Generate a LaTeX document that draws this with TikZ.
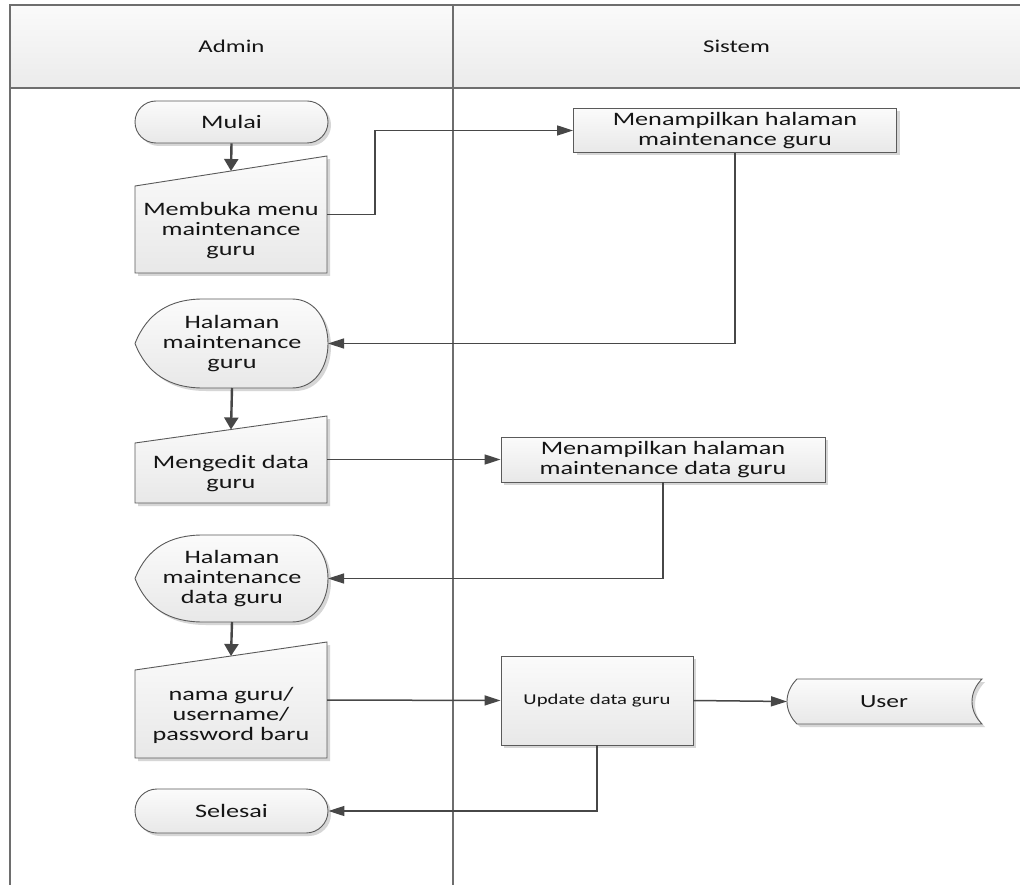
\documentclass[tikz,border=0pt]{standalone}
\usepackage{fontspec}
\newfontfamily\boxfont[FakeStretch=1.38]{Carlito}
\usetikzlibrary{arrows.meta,shadows,calc}
\definecolor{edgec}{HTML}{5A5A5A}
\definecolor{wirec}{HTML}{474747}
\definecolor{lanec}{HTML}{6E6E6E}
\definecolor{filltop}{HTML}{FBFBFB}
\definecolor{fillbot}{HTML}{E8E8E8}
\definecolor{hdrtop}{HTML}{FAFAFA}
\definecolor{hdrbot}{HTML}{EBEBEB}
\definecolor{shadowc}{HTML}{D6D6D6}
\definecolor{ink}{HTML}{151515}
\begin{document}
\begin{tikzpicture}[x=1pt,y=-1pt,
  shp/.style={draw=edgec, line width=0.9pt, top color=filltop, bottom color=fillbot,
    drop shadow={shadow xshift=3pt, shadow yshift=-3pt, fill=shadowc, opacity=1}},
  txt/.style={align=center, text=ink, inner sep=0pt,
    font=\boxfont\fontsize{19}{20}\selectfont},
  boxtxt/.style={shp, txt, rectangle},
  hdr/.style={text=ink, inner sep=0pt, font=\boxfont\fontsize{18}{20}\selectfont},
  lane/.style={draw=lanec, line width=1.2pt},
  wire/.style={draw=wirec, line width=1.5pt, -{Triangle[length=16pt,width=10pt]}},
  down/.style={draw=wirec, line width=2.4pt, -{Triangle[length=12pt,width=14pt]}}
]
\useasboundingbox (0,0) rectangle (1020,885);
\fill[white] (0,0) rectangle (1020,885);

% swimlane frame with header row
\fill[top color=hdrtop, bottom color=hdrbot] (10,5) rectangle (1020,88);
\draw[lane] (1020,5) -- (10,5) -- (10,885);
\draw[lane] (10,88) -- (1020,88);
\draw[lane] (453,5) -- (453,885);
\node[hdr] (admin) at (231.5,46) {Admin};
\node[hdr] (sistem) at (736.5,46) {Sistem};

% start terminator
\node[boxtxt, rounded corners=21pt, minimum width=193pt, minimum height=42pt] (mulai) at (231.5,122) {Mulai};

% manual input: open the menu
\path[shp] (135,186) -- (327,156) -- (327,273) -- (135,273) -- cycle;
\node[txt] (membuka) at (231,231) {Membuka menu\\maintenance\\guru};
\coordinate (membuka-in) at (231,171);
\coordinate (membuka-out) at (327,214.5);

% process: show maintenance page
\node[boxtxt, minimum width=323pt, minimum height=44pt] (show1) at (735,130.5) {Menampilkan halaman\\maintenance guru};

% display: maintenance page
\path[shp] (135,343.5) .. controls (147,313) and (170,299) .. (203,299) -- (292,299)
  .. controls (315,299) and (328,320) .. (328,343.5) .. controls (328,367) and (315,388) .. (292,388)
  -- (203,388) .. controls (170,388) and (147,374) .. (135,343.5) -- cycle;
\node[txt] (disp1) at (232,343.5) {Halaman\\maintenance\\guru};
\coordinate (disp1-e) at (328,343.5);
\coordinate (disp1-s) at (232,388);

% manual input: edit data
\path[shp] (135,443) -- (327,416) -- (327,503) -- (135,503) -- cycle;
\node[txt] (mengedit) at (231,474) {Mengedit data\\guru};
\coordinate (mengedit-in) at (231,429.5);
\coordinate (mengedit-out) at (327,459.5);

% process: show data page
\node[boxtxt, minimum width=324pt, minimum height=45pt] (show2) at (663,459.5) {Menampilkan halaman\\maintenance data guru};

% display: data page
\path[shp] (135,578.5) .. controls (147,548) and (170,535) .. (203,535) -- (292,535)
  .. controls (315,535) and (328,556) .. (328,578.5) .. controls (328,601) and (315,622) .. (292,622)
  -- (203,622) .. controls (170,622) and (147,609) .. (135,578.5) -- cycle;
\node[txt] (disp2) at (232,579) {Halaman\\maintenance\\data guru};
\coordinate (disp2-e) at (328,578.5);
\coordinate (disp2-s) at (232,622);

% manual input: new values
\path[shp] (135,670) -- (327,642) -- (327,758) -- (135,758) -- cycle;
\node[txt] (nama) at (231,715) {nama guru/\\username/\\password baru};
\coordinate (nama-in) at (231,656);
\coordinate (nama-out) at (327,700);

% process: update
\node[boxtxt, minimum width=192pt, minimum height=89pt,
  font=\boxfont\fontsize{15}{18}\selectfont] (upd) at (597,700.5) {Update data guru};

% stored data: User
\path[shp] (797,679) -- (982,679) .. controls (975,686) and (972,694) .. (972,701.5)
  .. controls (972,709) and (975,717) .. (982,724) -- (797,724)
  .. controls (790,717) and (787,709) .. (787,701.5) .. controls (787,694) and (790,686) .. (797,679) -- cycle;
\node[txt, font=\boxfont\fontsize{18.5}{20}\selectfont] (user) at (884,701.5) {User};
\coordinate (user-w) at (787,701.5);

% end terminator
\node[boxtxt, rounded corners=22pt, minimum width=193pt, minimum height=44pt] (selesai) at (231.5,811) {Selesai};

% connectors
\draw[down] (mulai.south) -- (membuka-in);
\draw[wire] (membuka-out) -- ++(48,0) |- (show1.west);
\draw[wire] (show1.south) |- (disp1-e);
\draw[down] (disp1-s) -- (mengedit-in);
\draw[wire] (mengedit-out) -- (show2.west);
\draw[wire] (show2.south) |- (disp2-e);
\draw[down] (disp2-s) -- (nama-in);
\draw[wire] (nama-out) -- (upd.west);
\draw[wire] (upd.east) -- (user-w);
\draw[wire] (upd.south) |- (selesai.east);
\end{tikzpicture}
\end{document}
